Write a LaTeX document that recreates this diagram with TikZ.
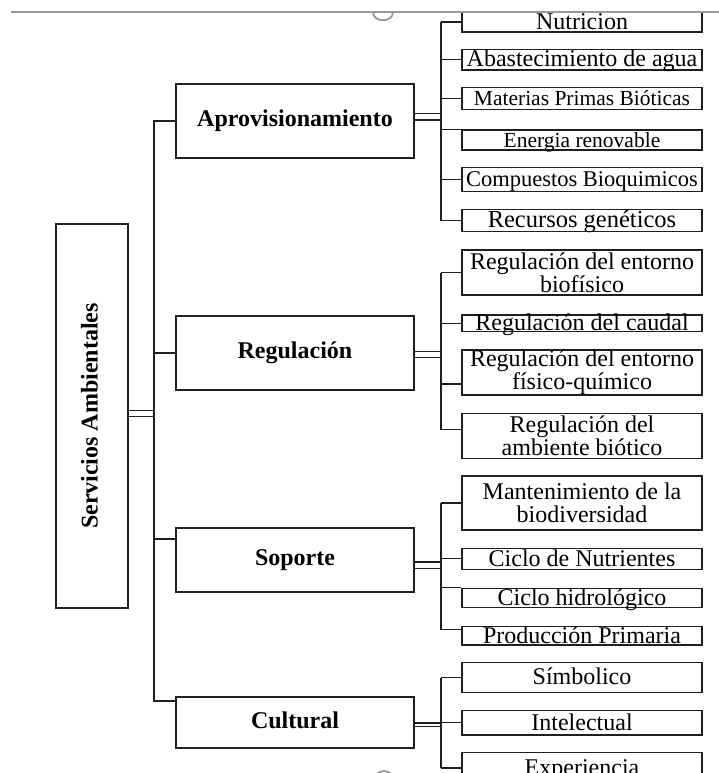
\documentclass[tikz,border=0pt]{standalone}
\usepackage{fontspec}
\setmainfont{Liberation Serif}
\usepackage{tikz}
\usetikzlibrary{calc,positioning,backgrounds}
\colorlet{lineA}{black!88}
\colorlet{pageA}{black!40}

\begin{document}
\begin{tikzpicture}[x=1pt,y=-1pt,
    rootbox/.style={draw=lineA, line width=1.2pt, inner sep=0pt, rotate=90,
      minimum width=384pt, minimum height=72pt,
      font=\fontsize{24}{24}\selectfont\bfseries, text height=16.5pt, text depth=5.3pt},
    groupbox/.style={draw=lineA, line width=1.2pt, inner sep=0pt, minimum width=238pt,
      font=\fontsize{24}{24}\selectfont\bfseries, text height=16.5pt, text depth=5.3pt},
    leafbox/.style={draw=lineA, line width=1.2pt, inner sep=0pt, minimum width=240pt,
      font=\fontsize{24}{24}\selectfont, text height=14.9pt, text depth=0.5pt},
    leaftwo/.style={draw=lineA, line width=1.2pt, inner sep=0pt, minimum width=240pt,
      align=center, font=\fontsize{24}{23.3}\selectfont},
    link/.style={draw=lineA, line width=1.2pt},
    dlink/.style={draw=lineA, line width=1.1pt, double, double distance=5pt}]
  \useasboundingbox (0,0) rectangle (719,773);

  % Root: rotated box on the left
  \node[rootbox] (serv) at (92,416) {Servicios Ambientales};

  % First level
  \node[groupbox, minimum height=74pt] (aprov) at (295,121) {Aprovisionamiento};
  \node[groupbox, minimum height=74pt] (regul) at (295,353) {Regulación};
  \node[groupbox, minimum height=64pt] (sopor) at (295,560) {Soporte};
  \node[groupbox, minimum height=51pt] (cultu) at (295,722.5) {Cultural};

  % Aprovisionamiento leaves
  \node[leafbox, minimum height=20pt] (nutri) at (582,22) {Nutricion};
  \node[leafbox, minimum height=20.7pt] (abast) at (582,59.7) {Abastecimiento de agua};
  \node[leafbox, minimum height=22pt, font=\fontsize{21.5}{21.5}\selectfont] (mater) at (582,98.3) {Materias Primas Bióticas};
  \node[leafbox, minimum height=20pt, font=\fontsize{21.5}{21.5}\selectfont] (energ) at (582,140) {Energia renovable};
  \node[leafbox, minimum height=24.4pt, font=\fontsize{22.5}{22.5}\selectfont] (compu) at (582,179.5) {Compuestos Bioquimicos};
  \node[leafbox, minimum height=22.4pt, font=\fontsize{24.5}{24.5}\selectfont] (recur) at (582,220.5) {Recursos genéticos};

  % Regulacion leaves
  \node[leaftwo, minimum height=45pt] (biofi) at (582,272.5) {Regulación del entorno\\biofísico};
  \node[leafbox, minimum height=16.7pt] (cauda) at (582,323.3) {Regulación del caudal};
  \node[leaftwo, minimum height=45pt] (fisqu) at (582,372.5) {Regulación del entorno\\físico-químico};
  \node[leaftwo, minimum height=45pt] (ambie) at (582,435.8) {Regulación del\\ambiente biótico};

  % Soporte leaves
  \node[leaftwo, minimum height=54pt] (mante) at (582,503) {Mantenimiento de la\\biodiversidad};
  \node[leafbox, minimum height=21pt] (cnutr) at (582,558.8) {Ciclo de Nutrientes};
  \node[leafbox, minimum height=19pt] (chidr) at (582,597.8) {Ciclo hidrológico};
  \node[leafbox, minimum height=18.3pt] (produ) at (582,635.8) {Producción Primaria};

  % Cultural leaves
  \node[leafbox, minimum height=29.6pt] (simbo) at (582,677.5) {Símbolico};
  \node[leafbox, minimum height=24.3pt] (intel) at (582,722.8) {Intelectual};
  \node[leafbox, minimum height=30.6pt] (exper) at (582,768) {Experiencia};

  \begin{scope}[on background layer]
    % Trunk from the root to the first level
    \coordinate (trunk) at (154,413.5);
    \draw[dlink] (serv.south |- trunk) -- (trunk);
    \draw[link] (aprov.west) -- (aprov.west -| trunk) -- ([yshift=21.5pt]cultu.west -| trunk) -- ([yshift=21.5pt]cultu.west);
    \draw[link] (regul.west) -- (regul.west -| trunk);
    \draw[link] ([yshift=21pt]sopor.west) -- ([yshift=21pt]sopor.west -| trunk);

    % Aprovisionamiento bus
    \coordinate (aprbus) at (441,117);
    \draw[dlink] (aprov.east |- aprbus) -- (aprbus);
    \draw[link] (nutri.west -| aprbus) -- (recur.west -| aprbus);
    \foreach \n in {nutri,abast,mater,compu,recur}
      \draw[link] (\n.west) -- (\n.west -| aprbus);
    \draw[link] (energ.north west) -- (energ.north west -| aprbus);

    % Regulacion bus
    \coordinate (regbus) at (441,354.5);
    \draw[dlink] (regul.east |- regbus) -- (regbus);
    \draw[link] (biofi.west -| regbus) -- ([yshift=6pt]ambie.west -| regbus);
    \draw[link] (biofi.west) -- (biofi.west -| regbus);
    \draw[link] (cauda.west) -- (cauda.west -| regbus);
    \draw[link] ([yshift=-11.5pt]fisqu.west) -- ([yshift=-11.5pt]fisqu.west -| regbus);
    \draw[link] ([yshift=6pt]ambie.west) -- ([yshift=6pt]ambie.west -| regbus);

    % Soporte bus
    \coordinate (sopbus) at (441,565);
    \draw[dlink] (sopor.east |- sopbus) -- (sopbus);
    \draw[link] (mante.west -| sopbus) -- ([yshift=6pt]produ.west -| sopbus);
    \draw[link] (mante.west) -- (mante.west -| sopbus);
    \draw[link] (cnutr.west) -- (cnutr.west -| sopbus);
    \draw[link] (chidr.north west) -- (chidr.north west -| sopbus);
    \draw[link] ([yshift=6pt]produ.west) -- ([yshift=6pt]produ.west -| sopbus);

    % Cultural bus
    \coordinate (culbus) at (441,724.5);
    \draw[dlink, double distance=2pt] (cultu.east |- culbus) -- (culbus);
    \draw[link] (simbo.west -| culbus) -- (exper.west -| culbus);
    \foreach \n in {simbo,intel,exper}
      \draw[link] (\n.west) -- (\n.west -| culbus);
  \end{scope}

  % Page edge with its handles
  \fill[white] (0,0) rectangle (719,11.3);
  \draw[pageA, line width=1.5pt] (11,12) -- (719,12);
  \draw[pageA, line width=1.8pt] (373,12) .. controls (373,23) and (393,23) .. (393,12);
  \draw[pageA, line width=1.8pt] (384,781) circle[radius=10];
\end{tikzpicture}
\end{document}
